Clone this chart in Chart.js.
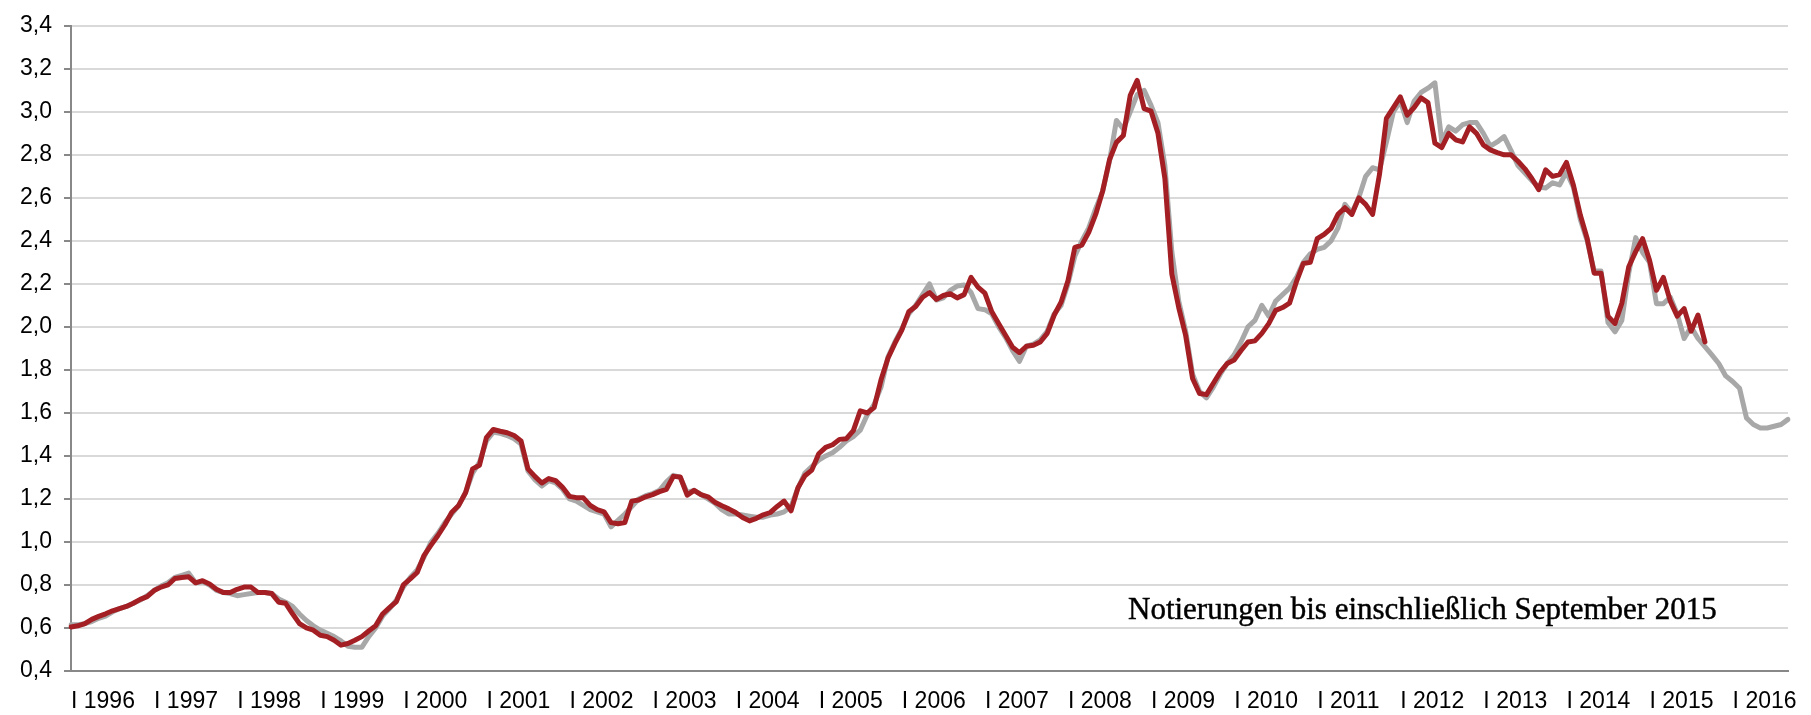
<!DOCTYPE html>
<html>
<head>
<meta charset="utf-8">
<script src="https://cdn.jsdelivr.net/npm/chart.js@4.4.1/dist/chart.umd.min.js"></script>
<style>
  html, body { margin: 0; padding: 0; background: #fff; }
  #wrap { position: relative; width: 1811px; height: 715px; }
  #note { position: absolute; left: 1128px; top: 593px; font-family: "Liberation Serif", "Times New Roman", serif; font-size: 31px; line-height: 31px; color: #000; white-space: nowrap; -webkit-text-stroke: 0.45px #000; }
</style>
</head>
<body>
<div id="wrap">
  <canvas id="c" width="1811" height="715"></canvas>
  <div id="note">Notierungen bis einschließlich September 2015</div>
</div>
<script>
// Tick labels (years, one label at each January)
const years = [1996,1997,1998,1999,2000,2001,2002,2003,2004,2005,2006,2007,2008,2009,2010,2011,2012,2013,2014,2015,2016];
const monthCount = 249; // Jan 1996 .. Sep 2016

// Y axis range
const yMin = 0.4, yMax = 3.4, yStep = 0.2;

// Red series: monthly quotations Jan 1996 .. Sep 2015
const redSeries = [
  0.605,0.61,0.62,0.64,0.654,0.666,0.68,0.69,0.70,0.715,0.733,0.746,
  0.774,0.79,0.80,0.83,0.835,0.838,0.81,0.82,0.805,0.78,0.765,0.765,
  0.78,0.79,0.79,0.765,0.765,0.76,0.72,0.715,0.666,0.62,0.60,0.59,
  0.566,0.56,0.543,0.52,0.528,0.543,0.56,0.586,0.61,0.665,0.695,0.723,
  0.80,0.828,0.858,0.938,0.985,1.03,1.08,1.138,1.17,1.23,1.34,1.357,
  1.485,1.523,1.515,1.508,1.495,1.47,1.34,1.305,1.274,1.295,1.285,1.254,
  1.212,1.206,1.205,1.17,1.15,1.14,1.09,1.085,1.09,1.19,1.195,1.21,
  1.22,1.234,1.245,1.305,1.302,1.218,1.24,1.22,1.21,1.185,1.168,1.154,
  1.137,1.114,1.098,1.11,1.126,1.137,1.165,1.19,1.145,1.252,1.308,1.334,
  1.41,1.44,1.452,1.477,1.48,1.518,1.61,1.60,1.625,1.754,1.854,1.923,
  1.985,2.07,2.095,2.138,2.16,2.128,2.146,2.154,2.135,2.15,2.23,2.185,
  2.157,2.07,2.015,1.96,1.905,1.88,1.91,1.915,1.93,1.97,2.054,2.115,
  2.215,2.37,2.38,2.44,2.523,2.63,2.777,2.858,2.89,3.077,3.146,3.015,
  3.003,2.9,2.69,2.246,2.09,1.96,1.76,1.69,1.685,1.738,1.79,1.83,
  1.846,1.89,1.93,1.935,1.97,2.015,2.077,2.09,2.11,2.21,2.295,2.30,
  2.41,2.43,2.458,2.523,2.554,2.523,2.60,2.57,2.523,2.71,2.97,3.02,
  3.07,2.985,3.02,3.065,3.043,2.854,2.834,2.90,2.87,2.86,2.93,2.90,
  2.846,2.823,2.81,2.80,2.80,2.77,2.735,2.69,2.638,2.73,2.70,2.708,
  2.765,2.66,2.52,2.41,2.25,2.25,2.05,2.015,2.11,2.28,2.35,2.41,
  2.31,2.17,2.23,2.12,2.05,2.085,1.98,2.055,1.93
];

// Grey series: Jan 1996 .. Sep 2016
const greySeries = [
  0.615,0.615,0.62,0.63,0.645,0.655,0.675,0.69,0.70,0.715,0.73,0.75,
  0.775,0.795,0.81,0.835,0.845,0.855,0.81,0.815,0.80,0.775,0.765,0.76,
  0.75,0.755,0.76,0.765,0.765,0.76,0.735,0.72,0.70,0.665,0.635,0.61,
  0.59,0.575,0.56,0.54,0.515,0.51,0.51,0.56,0.60,0.655,0.69,0.73,
  0.79,0.835,0.87,0.93,1.00,1.04,1.09,1.13,1.17,1.23,1.32,1.37,
  1.47,1.51,1.505,1.495,1.48,1.455,1.33,1.29,1.26,1.285,1.275,1.245,
  1.20,1.19,1.17,1.15,1.14,1.13,1.07,1.10,1.13,1.165,1.20,1.215,
  1.225,1.24,1.28,1.31,1.30,1.23,1.24,1.22,1.20,1.18,1.15,1.13,
  1.13,1.125,1.12,1.115,1.115,1.125,1.13,1.14,1.165,1.25,1.32,1.35,
  1.38,1.40,1.415,1.44,1.47,1.49,1.52,1.59,1.64,1.72,1.86,1.93,
  1.99,2.06,2.10,2.15,2.20,2.125,2.135,2.17,2.19,2.195,2.16,2.085,
  2.08,2.06,2.00,1.95,1.89,1.84,1.91,1.92,1.94,1.98,2.06,2.10,
  2.20,2.33,2.40,2.46,2.55,2.63,2.77,2.96,2.92,3.00,3.08,3.10,
  3.03,2.95,2.75,2.35,2.12,1.98,1.78,1.70,1.67,1.72,1.78,1.83,
  1.87,1.93,2.00,2.03,2.10,2.05,2.12,2.15,2.18,2.23,2.30,2.34,
  2.36,2.37,2.40,2.46,2.57,2.53,2.60,2.70,2.74,2.73,2.86,3.00,
  3.05,2.95,3.05,3.09,3.11,3.135,2.86,2.93,2.91,2.94,2.95,2.95,
  2.90,2.84,2.86,2.885,2.82,2.75,2.715,2.68,2.65,2.646,2.67,2.66,
  2.72,2.65,2.50,2.40,2.26,2.26,2.02,1.977,2.03,2.25,2.415,2.346,
  2.30,2.108,2.108,2.138,2.06,1.946,2.00,1.946,1.908,1.87,1.83,1.772,
  1.746,1.715,1.577,1.546,1.53,1.53,1.538,1.546,1.57
];

// Monthly categories built from the year list
const categories = [];
for (const y of years) {
  for (let mo = 1; mo <= 12; mo++) {
    if (categories.length < monthCount) categories.push(y + '-' + String(mo).padStart(2, '0'));
  }
}

const xFont = { family: '"Liberation Sans", Arial, sans-serif', size: 23 };
const yFont = { family: '"Liberation Sans", Arial, sans-serif', size: 23 };

new Chart(document.getElementById('c'), {
  type: 'line',
  data: {
    labels: categories,
    datasets: [
      { label: 'Notierungen', data: redSeries, borderColor: '#a31f24', borderWidth: 5, pointRadius: 0, tension: 0, fill: false, borderJoinStyle: 'round', borderCapStyle: 'round' },
      { label: 'Terminkurve', data: greySeries, borderColor: '#a8a8a8', borderWidth: 5, pointRadius: 0, tension: 0, fill: false, borderJoinStyle: 'round', borderCapStyle: 'round' }
    ]
  },
  options: {
    responsive: false,
    animation: false,
    events: [],
    layout: { padding: { top: 18, right: 23, left: 0, bottom: 0 } },
    plugins: { legend: { display: false }, tooltip: { enabled: false } },
    scales: {
      x: {
        type: 'category',
        offset: false,
        grid: { display: false, drawTicks: false },
        border: { display: true, color: '#888888', width: 2 },
        ticks: {
          autoSkip: false,
          maxRotation: 0,
          minRotation: 0,
          align: 'start',
          padding: 17,
          color: '#000',
          font: xFont,
          callback: function(value, index) {
            const lab = categories[index];
            if (lab && lab.endsWith('-01')) return 'I ' + lab.slice(0, 4);
            return '';
          }
        },
        afterFit: function(scale) { scale.height = 44; }
      },
      y: {
        min: yMin,
        max: yMax,
        grid: { color: '#d9d9d9', lineWidth: 2, tickColor: '#888888', tickLength: 7, drawTicks: true },
        border: { display: true, color: '#888888', width: 2 },
        ticks: {
          stepSize: yStep,
          padding: 12,
          color: '#000',
          font: yFont,
          callback: function(v) { return (Math.round(v * 10) / 10).toFixed(1).replace('.', ','); }
        },
        afterFit: function(scale) { scale.width = 71; }
      }
    }
  }
});
</script>
</body>
</html>
